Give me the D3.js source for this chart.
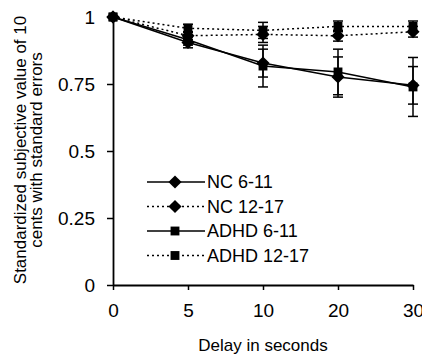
<!DOCTYPE html>
<html><head><meta charset="utf-8">
<script src="https://cdn.jsdelivr.net/npm/d3@7"></script>
<style>body{margin:0;background:#fff}svg{display:block;font-family:Arial,"Liberation Sans",sans-serif}</style>
</head><body><svg id="c" width="422" height="354"></svg>
<script>
const delays = ["0","5","10","20","30"];
const yTicks = [0,0.25,0.5,0.75,1];
const yTickLabels = ["0","0.25","0.5","0.75","1"];
const seriesNames = ["NC 6-11","NC 12-17","ADHD 6-11","ADHD 12-17"];
const nc611 = [1,0.905,0.828,0.776,0.745];
const nc611se = [0,0.02,0.052,0.075,0.07];
const nc1217 = [1,0.93,0.935,0.93,0.945];
const nc1217se = [0,0.015,0.03,0.02,0.02];
const adhd611 = [1,0.915,0.817,0.795,0.739];
const adhd611se = [0,0.02,0.078,0.085,0.11];
const adhd1217 = [1,0.958,0.95,0.965,0.965];
const adhd1217se = [0,0.015,0.03,0.02,0.02];

const series = [
  {name:seriesNames[0], vals:nc611, se:nc611se, dash:null, shape:"diamond"},
  {name:seriesNames[1], vals:nc1217, se:nc1217se, dash:"2,3", shape:"diamond"},
  {name:seriesNames[2], vals:adhd611, se:adhd611se, dash:null, shape:"square"},
  {name:seriesNames[3], vals:adhd1217, se:adhd1217se, dash:"2,3", shape:"square"}
];

const svg = d3.select("#c");
const x = d3.scalePoint().domain(delays).range([113,413]);
const y = d3.scaleLinear().domain([0,1]).range([285,17]);

const sym = s => d3.symbol().type(s==="diamond"?d3.symbolDiamond2:d3.symbolSquare2).size(s==="diamond"?110:100)();

// axes
const yAxis = svg.append("g").attr("transform","translate(113,0)")
  .call(d3.axisLeft(y).tickValues(yTicks).tickFormat((d,i)=>yTickLabels[i]).tickSize(6).tickPadding(12).tickSizeOuter(0));
yAxis.select(".domain").attr("stroke-width",1.8);
yAxis.selectAll("line").attr("stroke-width",1.5);
yAxis.selectAll("text").attr("font-size",19).attr("fill","#000");

const xAxis = svg.append("g").attr("transform","translate(0,285)")
  .call(d3.axisBottom(x).tickSize(5).tickPadding(14).tickSizeOuter(0));
xAxis.select(".domain").attr("stroke-width",1.8);
xAxis.selectAll("line").attr("stroke-width",1.5);
xAxis.selectAll("text").attr("font-size",19).attr("fill","#000");

// error bars
series.forEach(s=>{
  const g = svg.append("g");
  delays.forEach((d,i)=>{
    if(!s.se[i]) return;
    const cx = x(d), y1 = y(s.vals[i]+s.se[i]), y2 = y(s.vals[i]-s.se[i]);
    g.append("line").attr("x1",cx).attr("x2",cx).attr("y1",y1).attr("y2",y2).attr("stroke","#000").attr("stroke-width",1.5);
    [y1,y2].forEach(yy=>g.append("line").attr("x1",cx-5).attr("x2",cx+5).attr("y1",yy).attr("y2",yy).attr("stroke","#000").attr("stroke-width",1.5));
  });
});

// lines and markers
const line = d3.line().x((v,i)=>x(delays[i])).y(v=>y(v));
series.forEach(s=>{
  svg.append("path").attr("d",line(s.vals)).attr("fill","none").attr("stroke","#000")
    .attr("stroke-width",1.5).attr("stroke-dasharray",s.dash);
  svg.append("g").selectAll("path").data(s.vals).join("path")
    .attr("d",sym(s.shape)).attr("transform",(v,i)=>`translate(${x(delays[i])},${y(v)})`).attr("fill","#000");
});

// legend
const leg = svg.append("g");
series.forEach((s,i)=>{
  const ly = 182 + i*24.5;
  leg.append("line").attr("x1",147).attr("x2",205).attr("y1",ly).attr("y2",ly).attr("stroke","#000")
    .attr("stroke-width",1.3).attr("stroke-dasharray",s.dash);
  leg.append("path").attr("d",sym(s.shape)).attr("transform",`translate(175,${ly})`).attr("fill","#000");
  leg.append("text").attr("x",207).attr("y",ly).attr("dy","0.36em").attr("font-size",18)
    .attr("font-family","'Liberation Sans Narrow',Arial,sans-serif").text(s.name);
});

// titles
svg.append("text").attr("transform","translate(26,150) rotate(-90)").attr("text-anchor","middle").attr("font-size",17)
  .text("Standardized subjective value of 10");
svg.append("text").attr("transform","translate(42,150) rotate(-90)").attr("text-anchor","middle").attr("font-size",17)
  .text("cents with standard errors");
svg.append("text").attr("x",263).attr("y",351).attr("text-anchor","middle").attr("font-size",17).text("Delay in seconds");
</script></body></html>
